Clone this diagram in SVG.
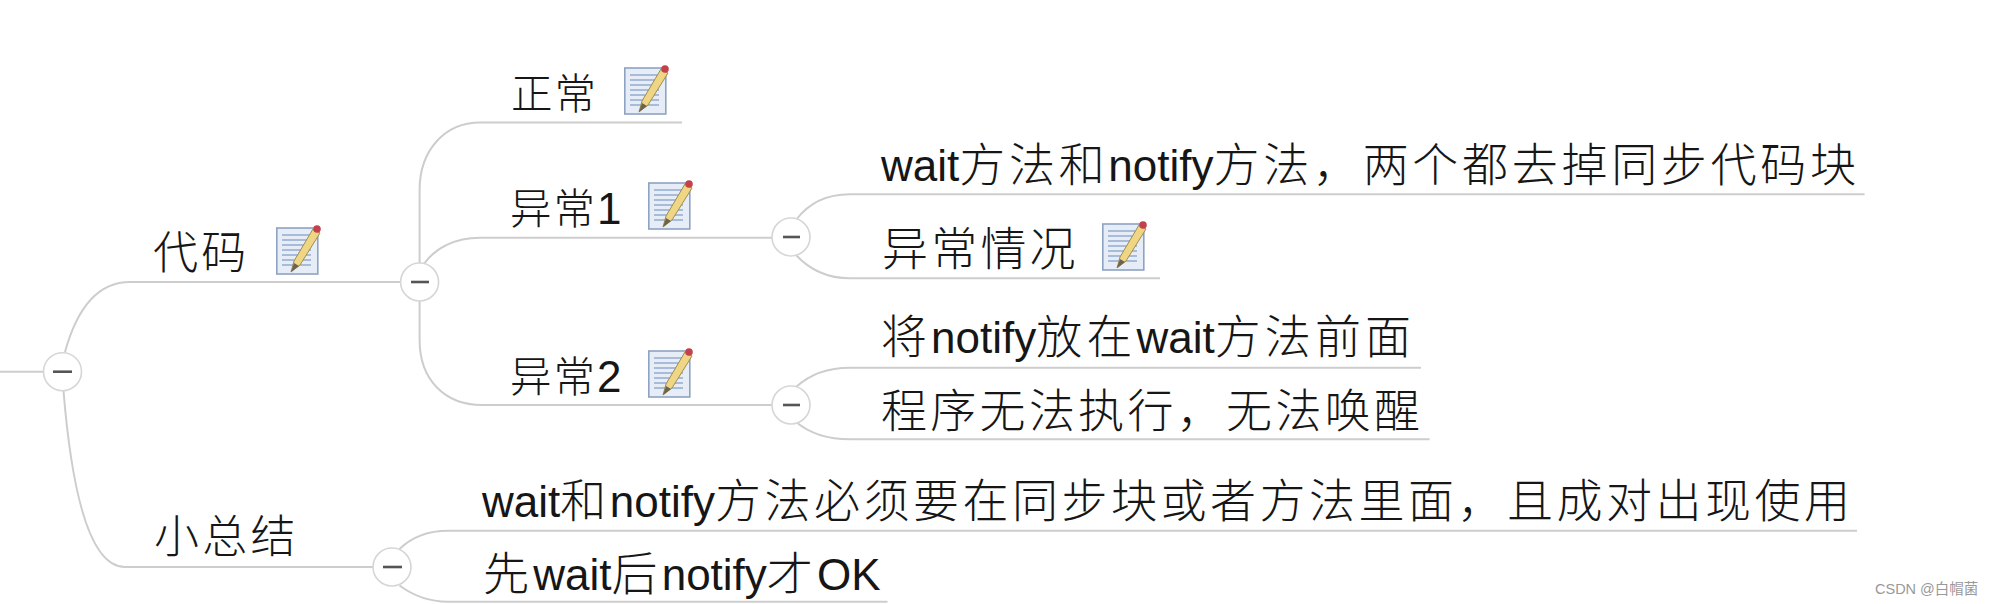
<svg xmlns="http://www.w3.org/2000/svg" width="1989" height="604" viewBox="0 0 1989 604">
<style>
text{font-family:"Liberation Sans","Noto Sans CJK SC",sans-serif;fill:#161616;font-size:44px}
.c{font-family:"Noto Sans CJK SC",sans-serif;font-size:46px;font-weight:300;letter-spacing:3.2px}
.s{font-family:"Noto Sans CJK SC",sans-serif;font-size:41.5px;font-weight:300;letter-spacing:2px}
.m{font-family:"Noto Sans CJK SC",sans-serif;font-size:45px;font-weight:300;letter-spacing:3.3px}
.w{font-size:14.5px;fill:#999}
.l{fill:none;stroke:#cdcdcd;stroke-width:2}
.t{fill:#fff;stroke:#d6d6d6;stroke-width:1.6}
.b{stroke:#555;stroke-width:2.6}
#node-a .c{letter-spacing:3.7px}
#node-c .c{letter-spacing:4.1px}
#node-d .c{letter-spacing:3.3px}
#node-e .c{letter-spacing:3.5px}
#node-f .c{letter-spacing:4.2px}
</style>
<defs>
<g id="note">
<rect x="0.8" y="3" width="41" height="46" fill="#e6edf7" stroke="#8ea2c2" stroke-width="1.6"/>
<path d="M6 10H35M6 15H35M6 20H35M6 25H35M6 30H35M6 35H35M6 40H35" stroke="#a8bcd9" stroke-width="2" fill="none"/>
<polygon points="15,47 18,36 37,4 44,8 24,40" fill="#efd685" stroke="#a08c50" stroke-width="1"/>
<polygon points="15,47 18,38 23,41" fill="#6b6250"/>
<circle cx="41" cy="4" r="3.8" fill="#c4414b"/>
</g>
</defs>
<rect width="1989" height="604" fill="#fff"/>
<g id="connectors">
<path class="l" d="M0 371.7H44"/>
<path class="l" d="M65 352C76 312 96 282 130 282H401"/>
<path class="l" d="M63.5 391C70 470 85 567 125 567H373"/>
<path class="l" d="M419.6 264V190C419.6 150 445 122.5 480 122.5H682"/>
<path class="l" d="M424 264C435 248 455 237.7 480 237.7H772"/>
<path class="l" d="M419.6 301V340C419.6 380 445 405 482 405H772"/>
<path class="l" d="M796 220C808 204 825 194.3 850 194.3H1864.6"/>
<path class="l" d="M796 255C808 268 825 278.3 850 278.3H1160"/>
<path class="l" d="M796 387C808 376 825 367.7 850 367.7H1421"/>
<path class="l" d="M796 422C808 432 825 439.3 850 439.3H1429.6"/>
<path class="l" d="M399.5 549C411 538 428 530.8 448 530.8H1857"/>
<path class="l" d="M399.5 585.5C411 594 428 601.7 448 601.7H887.5"/>
</g>
<g id="toggle-root"><circle class="t" cx="62.5" cy="371.7" r="19"/><path class="b" d="M53 371.7H72"/></g>
<g id="toggle-code"><circle class="t" cx="419.6" cy="282" r="19"/><path class="b" d="M411 282H429"/></g>
<g id="toggle-summary"><circle class="t" cx="392" cy="567" r="19"/><path class="b" d="M383 567H402"/></g>
<g id="toggle-ex1"><circle class="t" cx="791" cy="237" r="19"/><path class="b" d="M783 237H800"/></g>
<g id="toggle-ex2"><circle class="t" cx="791" cy="405" r="19"/><path class="b" d="M783 405H800"/></g>
<g id="node-code"><text x="153" y="269" class="m">代码</text><use href="#note" x="276" y="225"/></g>
<g id="node-normal"><text x="511" y="109" class="s">正常</text><use href="#note" x="624" y="65"/></g>
<g id="node-ex1"><text x="510" y="224"><tspan class="s">异常</tspan>1</text><use href="#note" x="648" y="180"/></g>
<g id="node-ex2"><text x="510" y="392"><tspan class="s">异常</tspan>2</text><use href="#note" x="648" y="348"/></g>
<g id="node-summary"><text x="154" y="553" class="m">小总结</text></g>
<g id="node-a"><text x="881" y="181">wait<tspan class="c">方法和</tspan>notify<tspan class="c">方法，两个都去掉同步代码块</tspan></text></g>
<g id="node-b"><text x="882" y="265" class="c">异常情况</text><use href="#note" x="1102" y="221"/></g>
<g id="node-c"><text x="881" y="353"><tspan class="c">将</tspan>notify<tspan class="c">放在</tspan>wait<tspan class="c">方法前面</tspan></text></g>
<g id="node-d"><text x="881" y="427" class="c">程序无法执行，无法唤醒</text></g>
<g id="node-e"><text x="482" y="517">wait<tspan class="c">和</tspan>notify<tspan class="c">方法必须要在同步块或者方法里面，且成对出现使用</tspan></text></g>
<g id="node-f"><text x="483" y="590"><tspan class="c">先</tspan>wait<tspan class="c">后</tspan>notify<tspan class="c">才</tspan>OK</text></g>
<text class="w" x="1875" y="594">CSDN @白帽菌</text>
</svg>
